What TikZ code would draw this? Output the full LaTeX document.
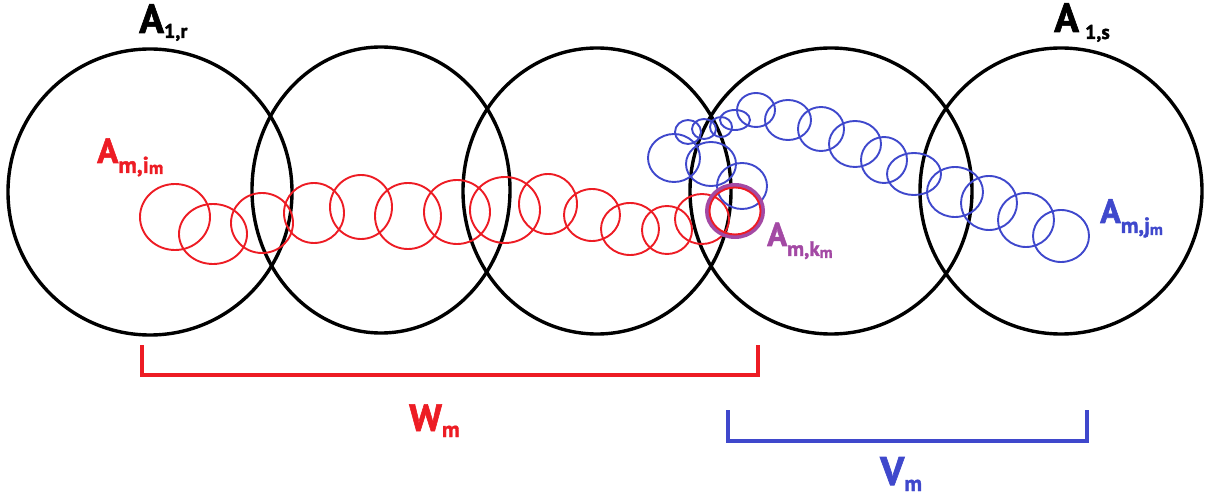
\documentclass[tikz,border=0pt]{standalone}
\usepackage{fontspec}
\setmainfont{PT Sans}[BoldFeatures={FakeBold=1.6}]
\definecolor{pred}{RGB}{237,28,36}
\definecolor{pblue}{RGB}{63,72,204}
\definecolor{ppurple}{RGB}{163,73,164}
\newcommand{\fs}[1]{\fontsize{#1}{#1}\selectfont}
\begin{document}
\begin{tikzpicture}[x=1pt,y=-1pt,
  big/.style={draw=black,line width=3.4pt},
  redc/.style={draw=pred,line width=1.9pt},
  bluec/.style={draw=pblue,line width=1.9pt},
  brace/.style={line width=3.2pt},
  lab/.style={anchor=base west,inner sep=0pt,font=\bfseries}]
\useasboundingbox (0,0) rectangle (1217,502);
% big circles
\draw[big] (150,192) ellipse [x radius=142,y radius=143];
\draw[big] (381,190) ellipse [x radius=129,y radius=143];
\draw[big] (597,191) ellipse [x radius=134,y radius=143];
\draw[big] (831,191) ellipse [x radius=141,y radius=143];
\draw[big] (1061,191) ellipse [x radius=141,y radius=143];
% red chain
\foreach \x/\y/\a/\b in {175/217/35/33, 213/234/34/30, 262/223/31/30, 314/213/30/30,
  361/207/31/32, 408/216/33/33, 457/212/33/32, 505/210/35/33, 548/204/29/30,
  592/215/28/26, 630/229/29/26, 667/230/25/24, 702/219/27/25}
  \draw[redc] (\x,\y) ellipse [x radius=\a,y radius=\b];
% blue chain
\foreach \x/\y/\a/\b in {674/158/26/24, 688/132/13/12, 704/129/12/10, 721/127/11/10,
  735/120/15/10, 756/110/19/17, 788/120/23/20, 821/129/23/22, 855/144/26/23,
  884/160/23/23, 914/174/27/21, 955/192/28/25, 989/203/28/27, 1026/220/28/27,
  1061/236/28/26, 711/164/25/22, 742/186/25/23}
  \draw[bluec] (\x,\y) ellipse [x radius=\a,y radius=\b];
% purple / red highlighted circle
\draw[draw=ppurple,line width=4pt] (735,211) ellipse [x radius=28,y radius=26];
\draw[draw=pred,line width=1.9pt] (735,211) ellipse [x radius=25.5,y radius=23.5];
% brackets
\coordinate (w1) at (142,345); \coordinate (w2) at (758,345);
\coordinate (v1) at (728,410); \coordinate (v2) at (1087,410);
\draw[brace,pred] (w1) -- ++(0,30) -| (w2);
\draw[brace,pblue] (v1) -- ++(0,31) -| (v2);
% labels
\node[lab] (a1r) at (139,33) {\fs{41}A\raisebox{-5pt}{\fs{20}1,r}};
\node[lab] (a1s) at (1054,32) {\fs{41}A\hspace{6pt}\raisebox{-7pt}{\fs{20}1,s}};
\node[lab,text=pred] (ami) at (97,163) {\fs{35}A\raisebox{-10pt}{\fs{23}m,i\raisebox{-1pt}{\fs{18}m}}};
\node[lab,text=ppurple] (amk) at (767,246) {\fs{33}A\raisebox{-10pt}{\fs{21}m,k\raisebox{-2pt}{\fs{16}m}}};
\node[lab,text=pblue] (amj) at (1100,223) {\fs{34}A\raisebox{-10pt}{\fs{22}m,j\raisebox{-2pt}{\fs{16}m}}};
\node[lab,text=pred] (wm) at (409,431) {\fs{38}W\raisebox{-6pt}{\fs{22}m}};
\node[lab,text=pblue] (vm) at (880,485) {\fs{40}V\raisebox{-6pt}{\fs{22}m}};
\end{tikzpicture}
\end{document}
